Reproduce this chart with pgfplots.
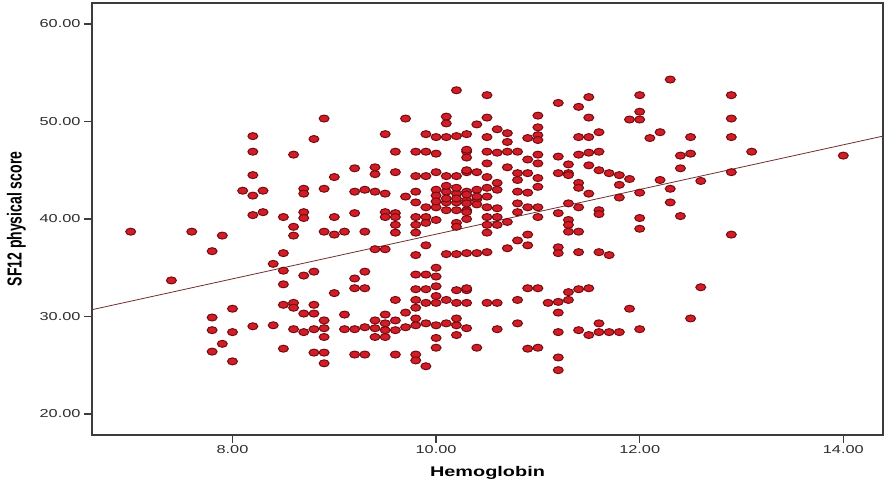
\documentclass[border=0pt]{standalone}
\usepackage{pgfplots}
\pgfplotsset{compat=1.18}
\usepackage{pgfplotstable}
\usepackage{fontspec}
\setmainfont{Liberation Sans}[FakeStretch=1.42]
\newfontfamily\plainfont{Liberation Sans}
\definecolor{ptfill}{RGB}{210,28,38}
\definecolor{ptdraw}{RGB}{115,12,18}
\definecolor{fitline}{RGB}{115,45,45}
\definecolor{axgray}{RGB}{60,60,60}
\definecolor{txtgray}{RGB}{45,45,45}

\pgfplotstableread{
x y
7.0 38.7
7.4 33.7
7.6 38.7
7.8 36.7
7.9 38.3
7.8 29.9
7.8 28.6
7.8 26.4
7.9 27.2
8.0 30.8
8.0 28.4
8.0 25.4
8.2 29.0
8.4 29.1
8.5 26.7
8.5 31.2
8.6 31.4
8.6 30.9
8.5 33.3
8.5 34.7
8.4 35.4
8.5 36.5
8.6 38.3
8.6 39.2
8.6 28.7
8.2 48.5
8.2 46.9
8.2 44.5
8.1 42.9
8.2 42.4
8.3 42.9
8.2 40.4
8.3 40.7
8.5 40.2
8.6 46.6
8.9 50.3
8.8 48.2
9.2 45.2
9.0 44.3
8.7 43.1
8.7 42.6
8.9 43.1
9.2 42.8
8.7 40.7
8.7 40.1
9.0 40.2
9.2 40.6
8.9 38.7
9.0 38.4
9.1 38.7
8.7 34.2
8.8 34.6
9.0 32.4
9.2 33.9
9.2 32.9
8.7 30.3
8.8 30.3
8.8 31.2
8.9 29.6
8.9 28.8
8.9 27.9
9.1 30.2
8.7 28.4
8.8 28.7
9.1 28.7
9.2 28.7
8.8 26.3
8.9 26.3
8.9 25.2
9.2 26.1
10.2 53.2
9.7 50.3
10.1 50.5
10.1 49.8
9.5 48.7
9.9 48.7
10.0 48.4
10.1 48.4
10.2 48.5
10.3 48.7
9.6 46.9
9.8 46.9
9.9 46.9
10.0 46.7
10.3 46.9
9.4 45.3
9.4 44.6
9.6 44.8
9.8 44.4
9.9 44.4
10.0 44.8
10.1 44.4
10.2 44.4
10.3 44.8
9.3 43.0
9.4 42.8
9.5 42.6
9.7 42.3
9.8 42.8
9.8 41.7
10.0 43.0
10.1 42.8
10.2 42.6
10.3 42.8
10.1 41.7
10.2 41.7
10.3 41.9
9.9 41.2
10.0 41.2
10.1 40.9
10.2 40.9
10.3 40.9
9.5 40.7
9.6 40.6
9.5 40.2
9.6 40.2
9.8 40.2
9.9 40.2
9.9 39.6
10.0 39.9
10.2 39.6
10.3 40.0
9.3 38.7
9.6 39.4
9.6 38.6
9.8 39.4
9.8 38.6
9.9 37.3
9.4 36.9
9.5 36.9
10.1 36.4
10.2 36.4
10.3 36.5
9.8 36.3
9.3 34.6
9.3 32.9
10.0 35.0
10.0 34.1
9.9 34.3
9.8 34.3
9.8 32.8
9.9 32.8
10.0 33.1
10.0 32.1
10.2 32.7
10.3 32.7
9.6 31.7
9.8 31.7
9.8 30.9
9.9 31.4
10.0 31.4
10.1 31.7
10.2 31.4
10.3 31.4
9.7 30.4
9.4 29.6
9.5 30.2
9.5 29.3
9.6 29.6
9.8 29.8
9.8 29.1
9.9 29.3
10.0 29.1
10.1 29.3
10.2 29.1
9.3 28.9
9.4 28.8
9.5 28.6
9.6 28.6
9.7 28.9
9.4 27.9
9.5 27.9
10.0 27.8
10.0 26.8
10.2 28.1
9.3 26.1
9.6 26.1
9.8 26.1
9.8 25.5
9.9 24.9
10.0 42.4
10.1 42.1
10.2 42.1
10.1 43.4
10.2 43.2
10.0 41.8
10.4 42.0
10.4 41.5
10.4 43.0
10.5 52.7
11.2 51.9
11.0 50.6
11.0 49.4
11.0 48.6
10.5 50.4
10.4 49.7
10.6 49.2
10.7 48.8
10.5 48.4
10.7 47.9
10.9 48.3
11.0 48.1
10.3 47.1
10.3 46.3
10.5 46.9
10.6 46.8
10.7 46.9
10.8 46.9
11.0 46.6
10.9 46.1
11.0 45.7
11.2 46.4
10.5 45.7
10.7 45.3
11.2 44.7
11.3 44.7
10.3 45.0
10.4 44.8
10.5 44.3
10.8 44.7
10.9 44.7
10.8 44.0
10.6 43.7
10.6 43.0
11.0 44.2
11.0 43.3
10.5 43.2
10.5 42.3
10.8 42.8
10.9 42.7
10.3 42.5
10.4 42.3
10.3 41.6
10.3 40.7
10.5 41.2
10.6 41.1
10.5 40.2
10.6 40.2
10.5 39.4
10.6 39.4
10.5 38.6
10.7 39.7
10.8 41.6
10.9 41.2
11.0 41.2
10.8 40.7
11.0 40.2
11.2 40.6
10.2 39.2
10.9 38.4
10.8 37.8
10.9 37.3
10.7 37.0
10.4 36.5
10.5 36.6
11.2 37.1
11.2 36.5
10.3 32.9
10.9 32.9
11.0 32.9
10.5 31.4
10.6 31.4
10.8 31.7
11.1 31.4
11.2 31.5
11.3 31.7
11.2 30.4
10.2 29.8
10.3 28.8
10.6 28.7
10.8 29.3
11.2 28.4
10.4 26.8
10.9 26.7
11.0 26.8
11.2 25.8
11.2 24.5
12.3 54.3
11.5 52.5
12.0 52.7
11.4 51.5
11.5 50.4
12.0 51.0
11.9 50.2
12.0 50.2
11.4 48.4
11.5 48.4
11.6 48.9
12.1 48.3
12.2 48.9
11.4 46.6
11.5 46.8
11.6 46.9
11.3 45.6
11.3 44.5
11.5 45.5
11.6 45.0
11.7 44.7
11.8 44.5
11.9 44.1
11.8 43.5
11.4 43.7
11.4 43.2
12.2 44.0
11.5 42.6
11.8 42.2
12.0 42.7
11.3 41.6
11.4 41.2
11.6 40.9
11.6 40.5
11.3 39.9
11.3 39.4
11.3 38.7
11.4 38.7
12.0 40.1
12.0 39.0
11.4 36.6
11.6 36.6
11.7 36.3
11.3 32.5
11.4 32.8
11.5 32.9
11.9 30.8
11.6 29.3
11.4 28.6
11.5 28.1
11.6 28.4
11.7 28.4
11.8 28.4
12.0 28.7
12.9 52.7
12.9 50.3
12.9 48.4
12.5 48.4
13.1 46.9
12.4 46.5
12.5 46.7
12.4 45.2
12.9 44.8
12.6 43.9
12.3 43.1
12.3 41.7
12.4 40.3
14.0 46.5
12.9 38.4
12.6 33.0
12.5 29.8
}\scatterdata

\begin{document}
\begin{tikzpicture}
\begin{axis}[
  width=791pt, height=432pt, scale only axis,
  xmin=6.62, xmax=14.39, ymin=17.85, ymax=62.15,
  xtick={8,10,12,14}, ytick={20,30,40,50,60},
  tick align=outside, xtick pos=bottom, ytick pos=left,
  major tick length=8pt,
  axis line style={axgray, line width=1.4pt},
  every tick/.style={axgray, line width=1.6pt},
  /pgf/number format/.cd, fixed, fixed zerofill, precision=2, assume math mode=true,
  /pgfplots/.cd,
  ticklabel style={font=\fontsize{11.5}{13}\selectfont, text=txtgray},
  xticklabel style={yshift=1pt},
  xlabel={\bfseries Hemoglobin},
  xlabel style={font=\fontsize{14}{16}\selectfont, at={(axis description cs:0.5,0)}, anchor=base, yshift=-42pt, text=black},
  ylabel={\scalebox{1}[1.45]{\plainfont\fontsize{14}{16}\selectfont\bfseries SF12 physical score}},
  ylabel style={at={(axis description cs:-0.0955,0.5)}, anchor=center, text=black},
]
\addplot[only marks, mark=*, mark size=3.5pt,
  mark options={xscale=1.42, fill=ptfill, draw=ptdraw, line width=1pt}]
  table[x=x, y=y] {\scatterdata};
\addplot[fitline, line width=0.8pt] coordinates {(6.62,30.7) (14.39,48.5)};
\end{axis}
\pgfresetboundingbox
\path[use as bounding box] ([xshift=-92pt,yshift=-49pt]current axis.south west) rectangle ([xshift=1pt,yshift=3pt]current axis.north east);
\end{tikzpicture}
\end{document}
